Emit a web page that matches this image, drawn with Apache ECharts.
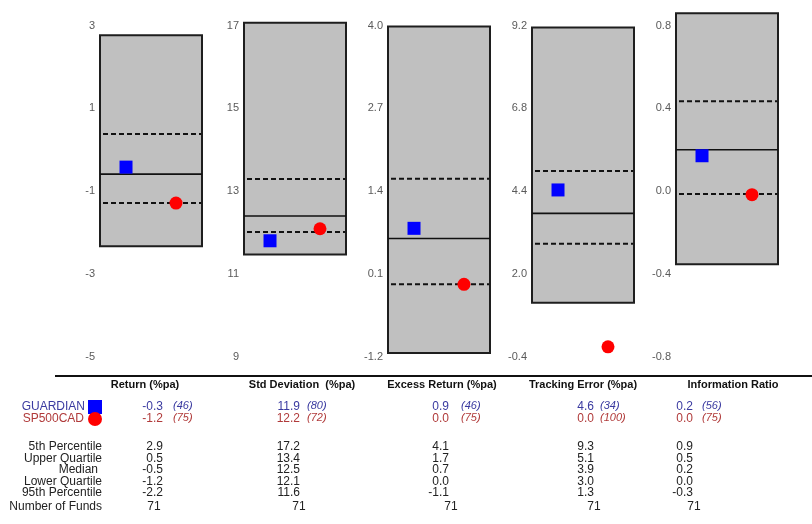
<!DOCTYPE html>
<html><head><meta charset="utf-8">
<script src="https://cdn.jsdelivr.net/npm/echarts@6/dist/echarts.min.js"></script>
<style>html,body{margin:0;padding:0;background:#fff}#c{width:812px;height:524px}</style>
</head><body><div id="c"></div>
<script>
// ---- data ----
const metrics = ['Return (%pa)', 'Std Deviation  (%pa)', 'Excess Return (%pa)', 'Tracking Error (%pa)', 'Information Ratio'];
const axisMin = [-5, 9, -1.2, -0.4, -0.8];
const axisMax = [3, 17, 4.0, 9.2, 0.8];
const axisInterval = [2, 2, 1.3, 2.4, 0.4];
const axisDecimals = [0, 0, 1, 1, 1];
const pct5 = [2.90, 17.20, 4.07, 9.30, 0.886];
const upperQuartile = [0.51, 13.42, 1.68, 5.14, 0.46];
const median = [-0.46, 12.53, 0.74, 3.91, 0.226];
const lowerQuartile = [-1.16, 12.14, 0.02, 3.03, 0.012];
const pct95 = [-2.20, 11.60, -1.06, 1.32, -0.328];
const guardian = [-0.29, 11.93, 0.90, 4.59, 0.197];
const sp500 = [-1.16, 12.22, 0.02, 0.04, 0.009];
const guardianRank = [46, 80, 46, 34, 56];
const sp500Rank = [75, 72, 75, 100, 75];
const numFunds = [71, 71, 71, 71, 71];
const seriesNames = ['GUARDIAN', 'SP500CAD'];
const statLabels = ['5th Percentile', 'Upper Quartile', 'Median', 'Lower Quartile', '95th Percentile'];

// ---- layout ----
const FONT = 'Liberation Sans, Arial, sans-serif';
const boxLeft = [100, 244, 388, 532, 676];
const boxWidth = 102;
const plotTop = 31, plotHeight = 331;
const headerCenter = [145, 302, 442, 583, 733];
const valueRight = [163, 300, 449, 594, 693];
const rankLeft = [173, 307, 461, 600, 702];
const fundsCenter = [154, 299, 451, 594, 694];
const headerY = 385, guardianY = 407, sp500Y = 419;
const statY = [447, 459, 470, 481.5, 492.5];
const fundsY = 507;

function fmt(v) {
  let r = Math.round(v * 10) / 10;
  if (Object.is(r, -0)) r = 0;
  return r.toFixed(1);
}

const grids = [], xAxes = [], yAxes = [], series = [];
metrics.forEach((m, i) => {
  grids.push({ left: boxLeft[i], top: plotTop, width: boxWidth, height: plotHeight });
  xAxes.push({ type: 'value', gridIndex: i, min: 0, max: 1, show: false });
  yAxes.push({
    type: 'value', gridIndex: i, min: axisMin[i], max: axisMax[i], interval: axisInterval[i],
    axisLine: { show: false }, axisTick: { show: false }, splitLine: { show: false },
    axisLabel: {
      color: '#5a5a5a', fontSize: 11, fontFamily: FONT, margin: 5, verticalAlign: 'bottom',
      formatter: v => axisDecimals[i] ? fmt(v) : String(Math.round(v))
    }
  });
  series.push({
    type: 'custom', xAxisIndex: i, yAxisIndex: i, z: 1, silent: true,
    data: [[0, pct5[i], upperQuartile[i], median[i], lowerQuartile[i], pct95[i]]],
    encode: { x: 0, y: 1 },
    renderItem: (params, api) => {
      const x0 = api.coord([0, api.value(1)])[0];
      const x1 = api.coord([1, api.value(1)])[0];
      const yy = k => api.coord([0, api.value(k)])[1];
      const yTop = yy(1), yUq = yy(2), yMed = yy(3), yLq = yy(4), yBot = yy(5);
      return {
        type: 'group', children: [
          { type: 'rect', shape: { x: x0, y: yTop, width: x1 - x0, height: yBot - yTop },
            style: { fill: '#c0c0c0', stroke: '#1e1e1e', lineWidth: 2 } },
          { type: 'line', shape: { x1: x0 + 3, y1: yUq, x2: x1 - 1, y2: yUq },
            style: { stroke: '#111', lineWidth: 2, lineDash: [5, 3] } },
          { type: 'line', shape: { x1: x0, y1: yMed, x2: x1, y2: yMed },
            style: { stroke: '#111', lineWidth: 1.6 } },
          { type: 'line', shape: { x1: x0 + 3, y1: yLq, x2: x1 - 1, y2: yLq },
            style: { stroke: '#111', lineWidth: 2, lineDash: [5, 3] } }
        ]
      };
    }
  });
  series.push({
    type: 'scatter', name: seriesNames[0], xAxisIndex: i, yAxisIndex: i, z: 3,
    symbol: 'rect', symbolSize: 13, itemStyle: { color: '#0000ff', opacity: 1 },
    data: [[0.255, guardian[i]]]
  });
  series.push({
    type: 'scatter', name: seriesNames[1], xAxisIndex: i, yAxisIndex: i, z: 3,
    symbol: 'circle', symbolSize: 13, itemStyle: { color: '#ff0000', opacity: 1 },
    data: [[0.745, sp500[i]]]
  });
});

// ---- table ----
const g = [];
function txt(x, y, text, opts) {
  g.push({ type: 'text', x: x, y: y, silent: true,
    style: Object.assign({ text: text, fill: '#222', font: '12px ' + FONT, align: 'left', verticalAlign: 'middle' }, opts || {}) });
}
g.push({ type: 'line', shape: { x1: 55, y1: 376, x2: 812, y2: 376 }, style: { stroke: '#111', lineWidth: 2 } });
metrics.forEach((m, i) => {
  txt(headerCenter[i], headerY, m, { font: 'bold 11px ' + FONT, align: 'center', fill: '#111' });
  txt(valueRight[i], guardianY, fmt(guardian[i]), { align: 'right', fill: '#3a3aa0' });
  txt(rankLeft[i], guardianY - 1, '(' + guardianRank[i] + ')', { fill: '#3a3aa0', font: 'italic 11px ' + FONT });
  txt(valueRight[i], sp500Y, fmt(sp500[i]), { align: 'right', fill: '#b03a3a' });
  txt(rankLeft[i], sp500Y - 1, '(' + sp500Rank[i] + ')', { fill: '#b03a3a', font: 'italic 11px ' + FONT });
  const stats = [pct5[i], upperQuartile[i], median[i], lowerQuartile[i], pct95[i]];
  stats.forEach((v, r) => txt(valueRight[i], statY[r], fmt(v), { align: 'right' }));
  txt(fundsCenter[i], fundsY, String(numFunds[i]), { align: 'center' });
});
txt(85, guardianY, seriesNames[0], { align: 'right', fill: '#3a3aa0' });
g.push({ type: 'rect', shape: { x: 88, y: guardianY - 7, width: 14, height: 14 }, style: { fill: '#0000ff' } });
txt(84, sp500Y, seriesNames[1], { align: 'right', fill: '#b03a3a' });
g.push({ type: 'circle', shape: { cx: 95, cy: sp500Y, r: 7 }, style: { fill: '#ff0000' } });
statLabels.forEach((s, r) => txt(s === 'Median' ? 98 : 102, statY[r], s, { align: 'right' }));
txt(102, fundsY, 'Number of Funds', { align: 'right' });

const chart = echarts.init(document.getElementById('c'), null, { renderer: 'canvas' });
chart.setOption({
  animation: false,
  backgroundColor: '#fff',
  grid: grids, xAxis: xAxes, yAxis: yAxes, series: series,
  graphic: g
});
</script>
</body></html>
